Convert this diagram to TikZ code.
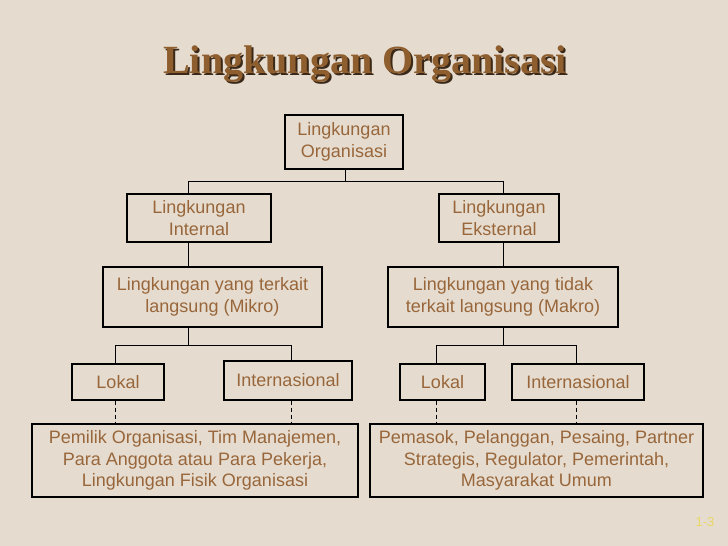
\documentclass[tikz,border=0pt]{standalone}
\usepackage{fontspec}
\setmainfont{Liberation Serif}
\newfontfamily\arialf{Liberation Sans}
\definecolor{bgc}{HTML}{E5DCCF}
\definecolor{txtc}{HTML}{98663A}
\definecolor{titc}{HTML}{8F5E2E}
\definecolor{shdc}{HTML}{3A2818}
\definecolor{pgc}{HTML}{EAD766}
\newcommand{\shadowtitle}[1]{\makebox[0pt][l]{\hspace{2pt}\raisebox{-2pt}{\color{shdc}#1}}#1}
\begin{document}
\begin{tikzpicture}[x=1pt,y=-1pt,
  boxn/.style={draw=black, line width=1.2pt, text=txtc, align=center, inner sep=0pt,
    font=\arialf\fontsize{18}{21.5}\selectfont},
  conn/.style={draw=black, line width=1.2pt},
  dconn/.style={draw=black, line width=1.2pt, dash pattern=on 4pt off 3pt},
  titlef/.style={font=\bfseries\fontsize{40}{44}\selectfont, inner sep=0pt, anchor=base}]
\useasboundingbox (0,0) rectangle (728,546);
\fill[bgc] (0,0) rectangle (728,546);
% title
\node[titlef, text=titc] (title) at (365,73.3) {\shadowtitle{Lingkungan Organisasi}};
% boxes
\node[boxn, minimum width=118, minimum height=54] (b1) at (344,142) {Lingkungan\\Organisasi};
\node[boxn, minimum width=144, minimum height=48] (intern) at (199,218) {Lingkungan\\Internal};
\node[boxn, minimum width=120, minimum height=48] (ekst) at (499,218) {Lingkungan\\Eksternal};
\node[boxn, minimum width=219, minimum height=60] (mikro) at (212.5,297) {Lingkungan yang terkait\\langsung (Mikro)};
\node[boxn, minimum width=230, minimum height=60] (makro) at (503,297) {Lingkungan yang tidak\\terkait langsung (Makro)};
\node[boxn, minimum width=92, minimum height=36] (lokL) at (118,382) {Lokal};
\node[boxn, minimum width=128, minimum height=39] (intL) at (288,380.5) {Internasional};
\node[boxn, minimum width=85, minimum height=36] (lokR) at (442.5,382) {Lokal};
\node[boxn, minimum width=132, minimum height=36] (intR) at (578,382) {Internasional};
\node[boxn, minimum width=326, minimum height=73] (botL) at (195,460.5) {Pemilik Organisasi, Tim Manajemen,\\Para Anggota atau Para Pekerja,\\Lingkungan Fisik Organisasi};
\node[boxn, minimum width=333, minimum height=73] (botR) at (536.5,460.5) {Pemasok, Pelanggan, Pesaing, Partner\\Strategis, Regulator, Pemerintah,\\Masyarakat Umum};
% connector columns
\coordinate (j1) at (345.7,181.7);
\coordinate (cL) at (188.5,0);
\coordinate (cR) at (503.3,0);
\coordinate (j2) at (188.5,345.7);
\coordinate (j3) at (503.3,345.7);
\coordinate (cLL) at (115.7,0);
\coordinate (cLI) at (291.3,0);
\coordinate (cRL) at (436.7,0);
\coordinate (cRI) at (576.3,0);
% connectors
\draw[conn] (b1.south -| j1) -- (j1);
\draw[conn] (intern.north -| cL) |- (j1);
\draw[conn] (ekst.north -| cR) |- (j1);
\draw[conn] (intern.south -| cL) -- (mikro.north -| cL);
\draw[conn] (ekst.south -| cR) -- (makro.north -| cR);
\draw[conn] (mikro.south -| j2) -- (j2);
\draw[conn] (lokL.north -| cLL) |- (j2);
\draw[conn] (intL.north -| cLI) |- (j2);
\draw[conn] (makro.south -| j3) -- (j3);
\draw[conn] (lokR.north -| cRL) |- (j3);
\draw[conn] (intR.north -| cRI) |- (j3);
\draw[dconn] (lokL.south -| cLL) -- (botL.north -| cLL);
\draw[dconn] (intL.south -| cLI) -- (botL.north -| cLI);
\draw[dconn] (lokR.south -| cRL) -- (botR.north -| cRL);
\draw[dconn] (intR.south -| cRI) -- (botR.north -| cRI);
% page number
\node[text=pgc, font=\arialf\fontsize{13}{15}\selectfont, inner sep=0pt] (pg) at (705,522) {1-3};
\end{tikzpicture}
\end{document}
